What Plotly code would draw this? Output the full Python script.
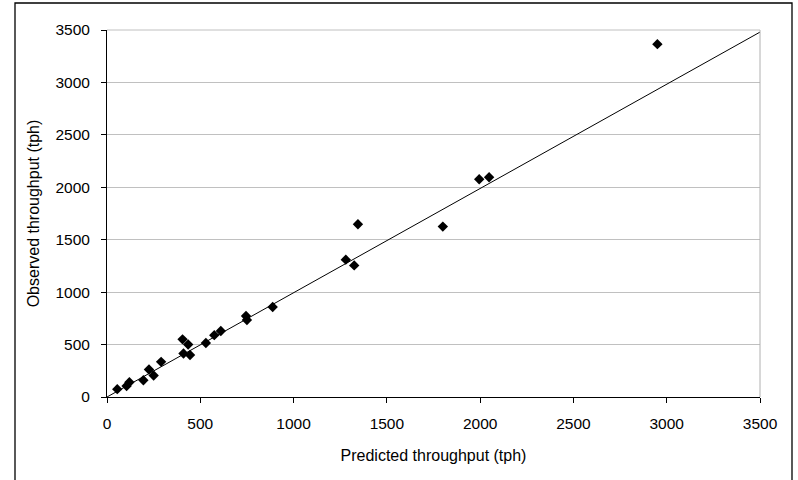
import plotly.graph_objects as go

predicted = [55, 105, 120, 195, 225, 250, 290, 405, 435, 410, 445, 530, 575, 610,
             745, 750, 888, 1280, 1325, 1345, 1800, 1995, 2048, 2950]
observed = [75, 105, 140, 160, 262, 205, 335, 550, 500, 415, 400, 515, 590, 630,
            772, 735, 858, 1310, 1255, 1647, 1625, 2076, 2095, 3365]
trend_x = [0, 3500]
trend_y = [0, 3480]
tick_vals = [0, 500, 1000, 1500, 2000, 2500, 3000, 3500]

W, H = 798, 480
L, R, T, B = 107, 760, 30, 397
pw, ph = R - L, B - T

fig = go.Figure()
fig.add_trace(go.Scatter(x=trend_x, y=trend_y, mode="lines",
                         line=dict(color="black", width=1), showlegend=False,
                         hoverinfo="skip"))
fig.add_trace(go.Scatter(x=predicted, y=observed, mode="markers",
                         marker=dict(symbol="diamond", size=8, color="black"),
                         showlegend=False))

fam = "Liberation Sans, Arial, sans-serif"
font = dict(family=fam, size=15.5, color="black")
title_font = dict(family=fam, size=16, color="black")

fig.update_layout(
    width=W, height=H,
    margin=dict(l=L, r=W - R, t=T, b=H - B, pad=0),
    paper_bgcolor="white", plot_bgcolor="white",
    font=font,
    xaxis=dict(range=[0, 3500], tickvals=tick_vals, ticks="outside", ticklen=5,
               tickcolor="black", showline=True, linecolor="black", linewidth=1,
               showgrid=False, zeroline=False, ticklabelstandoff=7,
               tickfont=font,
               title=dict(text="Predicted throughput (tph)", standoff=19,
                          font=title_font)),
    yaxis=dict(range=[0, 3500], tickvals=tick_vals, ticks="outside", ticklen=5,
               tickcolor="black", showline=True, linecolor="black", linewidth=1,
               showgrid=True, gridcolor="#c0c0c0", gridwidth=1, zeroline=False,
               ticklabelstandoff=8, tickfont=font,
               title=dict(text="Observed throughput (tph)", standoff=11,
                          font=title_font)),
    shapes=[
        dict(type="line", xref="paper", yref="paper", x0=1, x1=1, y0=0, y1=1,
             line=dict(color="#b0b0b0", width=1)),
        dict(type="line", xref="paper", yref="paper", x0=0, x1=1, y0=1, y1=1,
             line=dict(color="#c0c0c0", width=1)),
        dict(type="rect", xref="paper", yref="paper",
             x0=(15 - L) / pw, x1=(792 - L) / pw,
             y0=(B - 484) / ph, y1=(B - 3) / ph,
             line=dict(color="black", width=1.3), layer="below"),
    ],
)

fig.write_html("out.html")
